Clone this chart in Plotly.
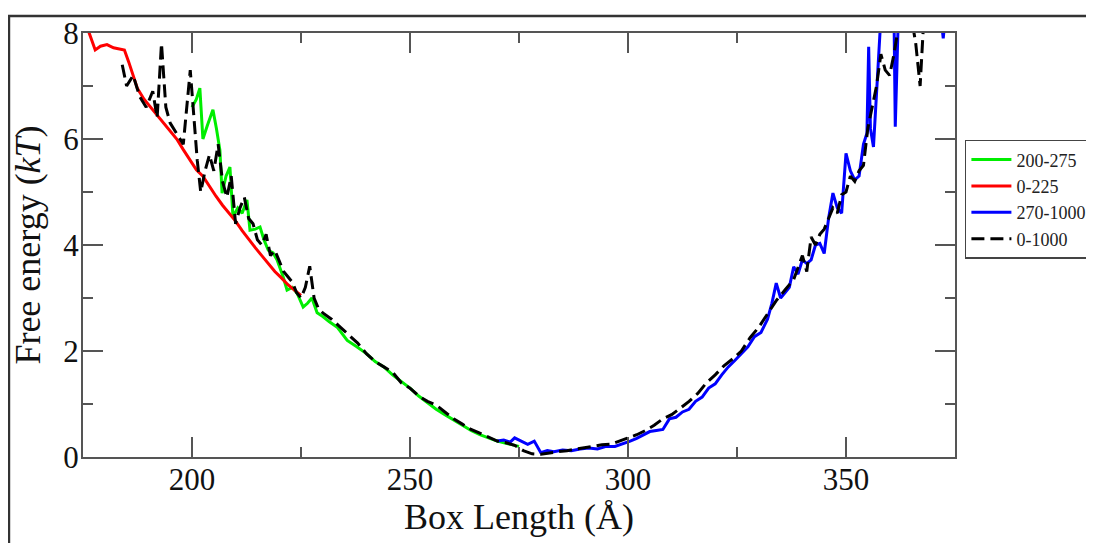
import plotly.graph_objects as go

# ---- data ----
red_x = [176.2, 177.8, 179, 180.5, 182, 183.5, 184.5, 185.5, 186.5, 187.5, 189, 190.5, 192, 193.5, 195,
         196.5, 198, 199.5, 201, 202.5, 204, 205.5, 207, 208.5, 210, 211.5, 213, 214.5, 216, 217.5,
         219, 220.5, 222, 223.5, 225]
red_y = [8.05, 7.68, 7.75, 7.78, 7.72, 7.7, 7.68, 7.45, 7.2, 6.95, 6.75, 6.6, 6.45, 6.3, 6.15,
         6.0, 5.8, 5.6, 5.42, 5.3, 5.1, 4.92, 4.75, 4.6, 4.45, 4.27, 4.1, 3.95, 3.8, 3.65,
         3.5, 3.38, 3.25, 3.15, 3.05]

green_x = [200, 201, 201.8, 202.5, 203.5, 204.8, 205.6, 206.4, 206.9, 207.8, 208.7, 209.4, 210.5, 211.5,
           212.6, 213.3, 214.5, 215.6, 216.5, 217.5, 218.6, 219.5, 220.9, 221.8, 223, 224.1, 225.5,
           226.5, 227.5, 228.7, 230, 231.5, 233.3, 235.6, 237.8, 240, 242, 244, 246, 248, 250, 252,
           254, 256, 258, 260, 262, 264, 266, 268, 270, 272, 274, 275]
green_y = [6.6, 6.75, 6.96, 6.0, 6.25, 6.55, 6.2, 5.79, 4.98, 5.3, 5.47, 4.53, 4.7, 4.6,
           4.85, 4.28, 4.3, 4.34, 4.1, 3.9, 3.85, 3.72, 3.4, 3.15, 3.2, 3.09, 2.83,
           2.9, 3.0, 2.72, 2.65, 2.55, 2.45, 2.2, 2.08, 1.95, 1.8, 1.7, 1.55, 1.42, 1.3, 1.15,
           1.03, 0.9, 0.8, 0.7, 0.6, 0.5, 0.42, 0.36, 0.3, 0.26, 0.22, 0.2]

blue_x = [270, 271.5, 273, 274, 275.5, 277, 278.5, 280, 281.5, 283, 285, 287, 289, 291, 293, 295, 297,
          299, 300.5, 302, 303.5, 305, 306.5, 308, 309.5, 311, 312.5, 314, 315.5, 317, 318.5, 320,
          321.5, 323, 324.5, 326, 327.5, 329, 330.5, 332, 333, 334, 335, 336, 337, 338, 339, 340,
          341, 342, 343, 344, 345, 346, 347, 348, 349, 350, 351, 352, 353, 354, 354.8, 355.2,
          355.6, 356.3, 357, 358, 359, 360, 361, 361.3, 362, 363, 371.5, 372.3, 373]
blue_y = [0.3, 0.32, 0.28, 0.36, 0.3, 0.24, 0.3, 0.08, 0.12, 0.1, 0.13, 0.12, 0.15, 0.17, 0.15, 0.2, 0.2,
          0.25, 0.3, 0.35, 0.42, 0.48, 0.5, 0.52, 0.72, 0.75, 0.85, 0.9, 1.05, 1.13, 1.3, 1.38,
          1.55, 1.7, 1.82, 1.95, 2.08, 2.27, 2.35, 2.6, 2.9, 3.28, 3.0, 3.1, 3.2, 3.59, 3.45, 3.72,
          3.65, 3.72, 4.0, 4.03, 3.84, 4.5, 4.98, 4.7, 4.6, 5.73, 5.4, 5.23, 5.3, 5.9, 6.11, 7.74,
          6.2, 5.85, 7.0, 8.3, 8.5, 8.3, 8.4, 6.23, 8.3, 8.5, 8.5, 7.9, 8.5]

black_x = [184, 185, 186.5, 188, 189.5, 191, 192, 193, 194, 195, 196.5, 198, 199.6, 200.4, 201.2, 202,
           203, 204, 205, 206, 207, 208, 209, 210, 211, 212, 213, 214, 215, 216, 217, 218, 219, 220,
           221, 222, 223, 224, 225, 226, 227, 228, 229, 230, 232, 234, 236, 238, 240, 242, 244, 246,
           248, 250, 252, 254, 256, 258, 260, 262, 264, 266, 268, 270, 272, 274, 276, 278, 280, 282,
           284, 286, 288, 290, 292, 294, 296, 298, 300, 302, 304, 306, 308, 310, 312, 314, 316, 318,
           320, 322, 324, 326, 328, 330, 332, 334, 336, 338, 340, 341, 342, 343, 344, 345, 346, 347,
           348, 349, 350, 351, 352, 353, 354, 355, 356, 357, 358, 359, 360, 361, 362, 363, 365, 366,
           367, 367.8]
black_y = [7.4, 7.0, 7.2, 6.8, 6.6, 6.9, 6.4, 7.8, 6.6, 6.3, 6.1, 5.9, 7.3, 6.5, 5.6, 5.0,
           5.4, 5.7, 5.4, 5.9, 5.2, 4.9, 5.3, 4.4, 4.7, 4.9, 4.5, 4.4, 4.1, 4.0, 4.2, 3.8, 3.9, 3.7,
           3.5, 3.4, 3.3, 3.1, 3.0, 3.2, 3.6, 3.0, 2.8, 2.72, 2.6, 2.45, 2.3, 2.15, 1.95, 1.8, 1.7, 1.6,
           1.4, 1.3, 1.15, 1.05, 0.98, 0.85, 0.72, 0.62, 0.52, 0.45, 0.38, 0.3, 0.27, 0.22, 0.12, 0.06, 0.05, 0.08,
           0.1, 0.12, 0.15, 0.17, 0.2, 0.23, 0.24, 0.3, 0.36, 0.42, 0.5, 0.6, 0.72, 0.8, 0.92, 1.05, 1.2, 1.4,
           1.55, 1.72, 1.85, 2.0, 2.25, 2.45, 2.7, 2.95, 3.15, 3.35, 3.8, 3.5, 4.15, 4.0, 4.2, 4.3, 4.5, 4.7,
           4.6, 4.95, 5.0, 5.3, 5.2, 5.4, 5.5, 6.2, 6.6, 7.0, 7.6, 7.3, 7.2, 7.6, 8.1, 8.4, 8.3, 7.8,
           7.0, 8.2]

series_names = ["200-275", "0-225", "270-1000", "0-1000"]

SERIF = "Liberation Serif, Times New Roman, serif"
AXC = "#555555"

fig = go.Figure()
fig.add_trace(go.Scatter(x=green_x, y=green_y, mode="lines", name=series_names[0],
                         line=dict(color="#00ee00", width=3)))
fig.add_trace(go.Scatter(x=red_x, y=red_y, mode="lines", name=series_names[1],
                         line=dict(color="#ff0000", width=3)))
fig.add_trace(go.Scatter(x=blue_x, y=blue_y, mode="lines", name=series_names[2],
                         line=dict(color="#0000ff", width=3)))
fig.add_trace(go.Scatter(x=black_x, y=black_y, mode="lines", name=series_names[3],
                         line=dict(color="#000000", width=3, dash="13px,6px")))

axis_common = dict(showgrid=False, zeroline=False, showline=True, linecolor=AXC, linewidth=2,
                   mirror="allticks", ticks="inside", ticklen=20, tickwidth=2, tickcolor=AXC,
                   automargin=False,
                   tickfont=dict(family=SERIF, size=31, color="#111"))

fig.update_xaxes(range=[175, 375], tick0=200, dtick=50, ticklabelstandoff=-6,
                 minor=dict(ticks="inside", ticklen=10, tickwidth=2, tickcolor=AXC, dtick=25, tick0=175),
                 title=dict(text="Box Length (Å)", font=dict(family=SERIF, size=36, color="#111"), standoff=4),
                 **axis_common)
fig.update_yaxes(range=[0, 8], tick0=0, dtick=2, ticklabelstandoff=-4,
                 minor=dict(ticks="inside", ticklen=10, tickwidth=2, tickcolor=AXC, dtick=1),
                 title=dict(text="Free energy (<i>kT</i>)", font=dict(family=SERIF, size=36, color="#111"), standoff=12),
                 **axis_common)

# outer frame of the original figure (partly cut off by the crop)
fig.add_shape(type="rect", xref="paper", yref="paper", x0=-0.0849, y0=-2, x1=3, y1=1.040,
              line=dict(color="#333333", width=2.5), fillcolor="rgba(0,0,0,0)", layer="above")

# the page body adds an 8px offset; compensate by shrinking the figure and margins
fig.update_layout(
    width=1086, height=535,
    margin=dict(l=75, r=139, t=25, b=86, autoexpand=False),
    paper_bgcolor="white", plot_bgcolor="white",
    showlegend=True,
    legend=dict(x=1.157, y=0.748, xanchor="right", yanchor="top",
                bordercolor="#444", borderwidth=1.5, bgcolor="white",
                font=dict(family=SERIF, size=18, color="#222"),
                itemwidth=40, traceorder="normal"),
)

fig.write_html("out.html")
